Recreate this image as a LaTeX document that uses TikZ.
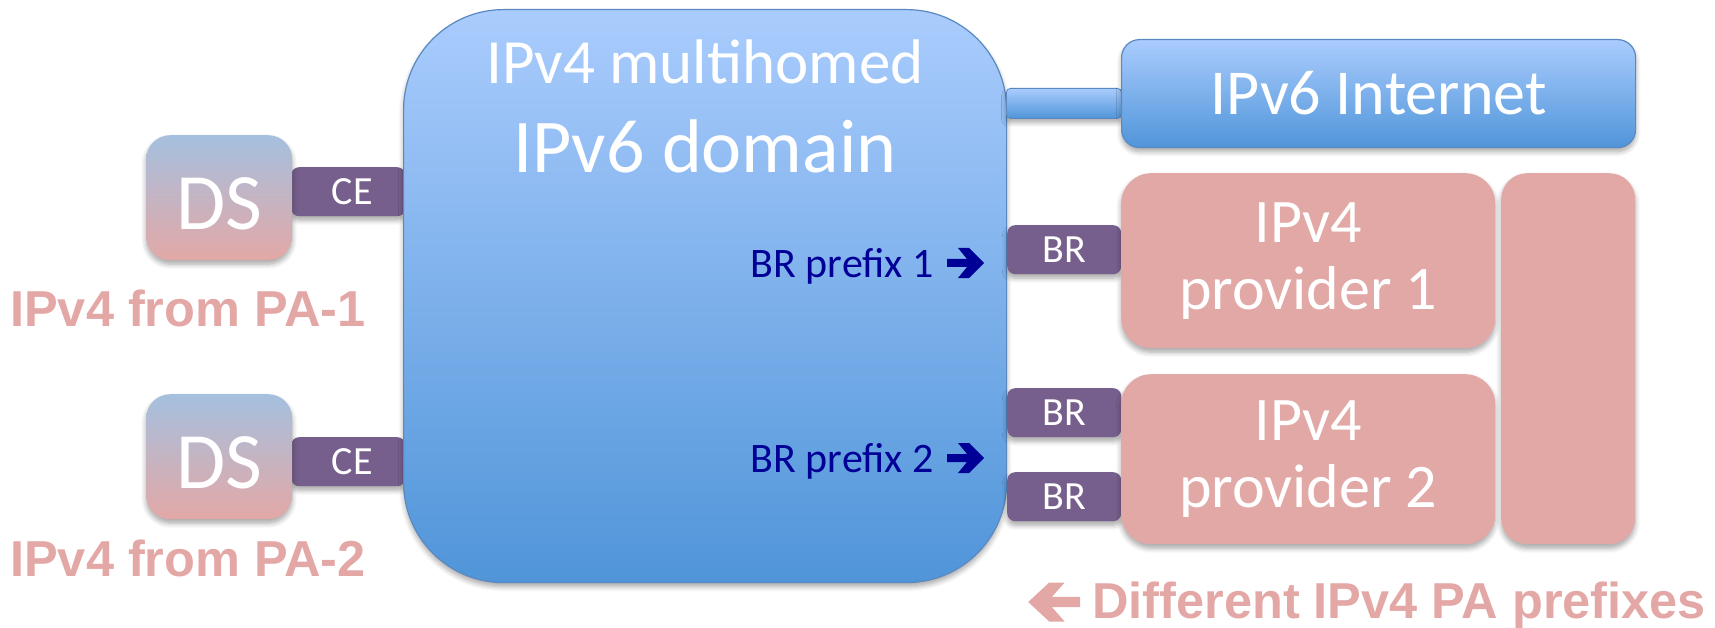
\documentclass[tikz,border=0pt]{standalone}
\usepackage{fontspec}
\setmainfont{Carlito}
\newfontfamily\arialfont{Liberation Sans}
\usetikzlibrary{shadows.blur}

\definecolor{skytop}{HTML}{AACCFD}
\definecolor{skybot}{HTML}{5095D9}
\definecolor{skyedge}{HTML}{5A89C2}
\definecolor{dstop}{HTML}{A5C0DF}
\definecolor{dsbot}{HTML}{E3A8A6}
\definecolor{routerpurple}{HTML}{765F8C}
\definecolor{provpink}{HTML}{E1A8A6}
\definecolor{notepink}{HTML}{E3A8A6}
\definecolor{navy}{HTML}{000096}

\tikzset{
  box/.style={rectangle, inner sep=0pt, anchor=north west},
  softshadow/.style={blur shadow={shadow xshift=0pt, shadow yshift=-4pt,
      shadow blur steps=6, shadow blur radius=5pt, shadow opacity=35}},
  sky/.style={box, softshadow, top color=skytop, bottom color=skybot,
      draw=skyedge, line width=1.2pt},
  dsbox/.style={box, softshadow, top color=dstop, bottom color=dsbot,
      rounded corners=24pt, minimum width=146pt, minimum height=125pt,
      text height=64pt, text depth=0pt,
      text=white, font=\fontsize{80}{82}\selectfont},
  router/.style={box, softshadow, fill=routerpurple, rounded corners=8pt,
      minimum width=114pt, minimum height=49pt,
      text=white, font=\fontsize{40}{44}\selectfont},
  provider/.style={box, softshadow, fill=provpink, rounded corners=30pt,
      text=white, align=center, font=\fontsize{62}{67}\selectfont},
  whitetext/.style={text=white, inner sep=0pt},
  note/.style={text=notepink, inner sep=0pt, anchor=base west,
      font=\arialfont\bfseries\fontsize{50.5}{55}\selectfont},
  prefixlabel/.style={text=navy, inner sep=0pt, anchor=base east,
      font=\fontsize{42}{46}\selectfont},
  fatarrow/.pic={\fill[pic actions] (0,-4) -- (20,-4) -- (11,-15) -- (22,-15)
      -- (37,0) -- (22,15) -- (11,15) -- (20,4) -- (0,4) -- cycle;}
}

\begin{document}
\begin{tikzpicture}[x=1pt, y=-1pt]
\useasboundingbox (0,0) rectangle (1715,628);

% customer sites with their CE routers
\node[router] (ce1) at (291,167) {\hspace*{8pt}CE};
\node[router] (ce2) at (291,437) {\hspace*{8pt}CE};
\node[dsbox] (ds1) at (146,135) {DS};
\node[dsbox] (ds2) at (146,394) {DS};

% the IPv6 domain
\node[sky, rounded corners=100pt, minimum width=603pt, minimum height=573pt]
  (domain) at (403,9) {};
\node[whitetext, anchor=base, font=\fontsize{63}{66}\selectfont]
  (title1) at (705,84) {IPv4 multihomed};
\node[whitetext, anchor=base, font=\fontsize{76}{80}\selectfont]
  (title2) at (705,173) {IPv6 domain};

% uplink to the IPv6 Internet
\node[sky, rounded corners=4pt, line width=0.8pt, minimum width=115pt,
  minimum height=30pt] (uplink) at (1006,88) {};
\node[sky, rounded corners=18pt, minimum width=514pt, minimum height=108pt,
  text=white, font=\fontsize{64}{67}\selectfont] (v6net) at (1121,39) {IPv6 Internet};

% border relays
\node[router] (br1) at (1007,225) {BR};
\node[router] (br2) at (1007,388) {BR};
\node[router] (br3) at (1007,472) {BR};

% IPv4 providers
\node[provider, minimum width=374pt, minimum height=175pt] (prov1) at (1121,173)
  {IPv4\\provider 1};
\node[provider, minimum width=374pt, minimum height=170pt] (prov2) at (1121,374)
  {IPv4\\provider 2};
\node[box, softshadow, fill=provpink, rounded corners=26pt, minimum width=134pt,
  minimum height=371pt] (v4core) at (1501,173) {};

% prefix labels inside the domain
\node[prefixlabel] (pfx1) at (934,277) {BR prefix 1};
\pic[fill=navy] at (947,263) {fatarrow};
\node[prefixlabel] (pfx2) at (934,472) {BR prefix 2};
\pic[fill=navy] at (947,458) {fatarrow};

% address notes
\node[note] (pa1) at (10,326) {IPv4 from PA-1};
\node[note] (pa2) at (10,576) {IPv4 from PA-2};
\pic[fill=notepink, xscale=-1.4, yscale=1.3] at (1080,602) {fatarrow};
\node[note] (diff) at (1092,618) {Different IPv4 PA prefixes};
\end{tikzpicture}
\end{document}
